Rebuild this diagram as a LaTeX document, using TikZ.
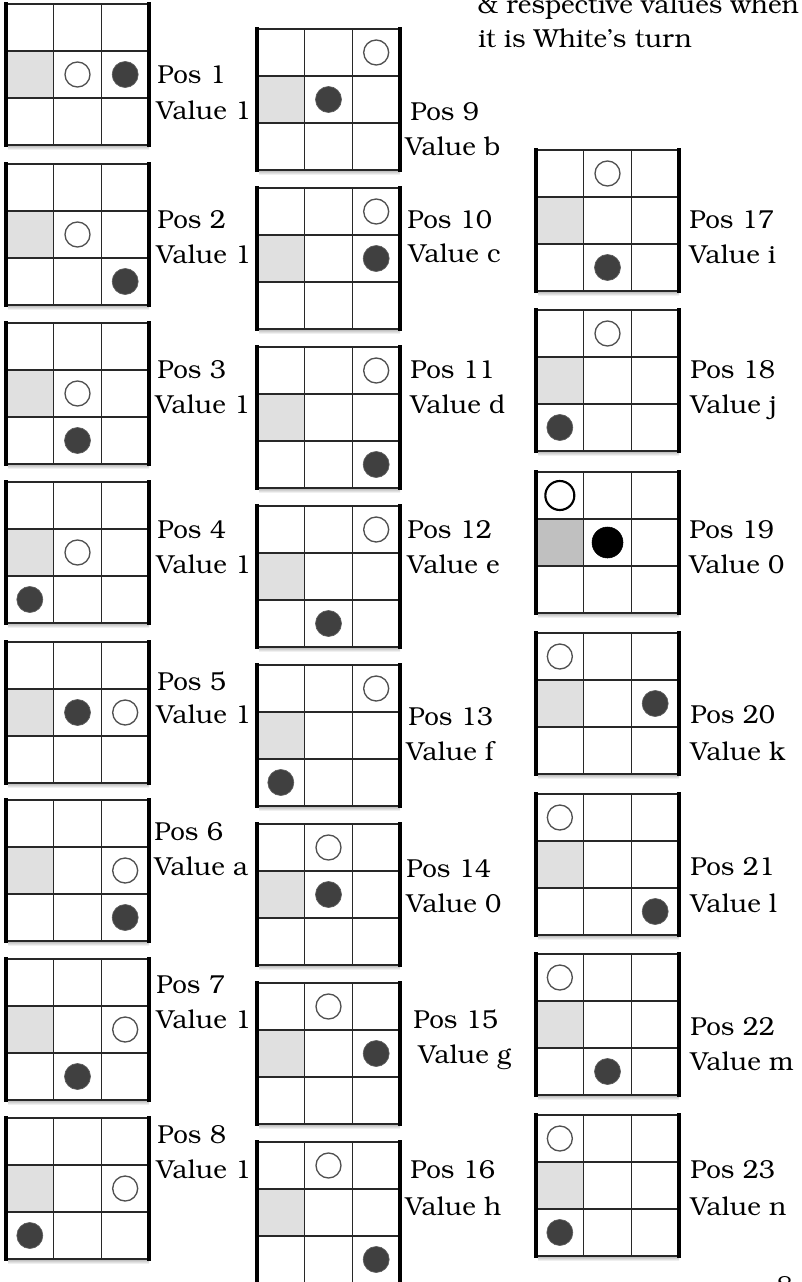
\documentclass[tikz,border=0pt]{standalone}
\usepackage[T1]{fontenc}
\usepackage{bookman}
\usetikzlibrary{calc,positioning}
\definecolor{cShade}{RGB}{224,224,224}
\definecolor{cShadeDk}{RGB}{192,192,192}
\definecolor{cStone}{RGB}{64,64,64}
\definecolor{cRim}{RGB}{80,80,80}
\definecolor{cGrid}{RGB}{40,40,40}

% one 3x3 board: [style] {x left}{y top}{white row}{white col}{black row}{black col}
\newcommand{\drawboard}[7][]{%
  \begin{scope}[#1]
    \shade[top color=black!30, bottom color=white] ({#2+2},{#3+141}) rectangle ({#2+143},{#3+146});
    \fill[white] (#2,#3) rectangle ++(143,141);
    \fill[cellshade] (#2,{#3+47}) rectangle ++(47.7,47);
    \draw[gridline] ({#2+47.7},#3) -- ++(0,141) ({#2+95.3},#3) -- ++(0,141)
      (#2,{#3+47}) -- ++(143,0) (#2,{#3+94}) -- ++(143,0);
    \draw[rimline] (#2,#3) -- ++(143,0) (#2,{#3+141}) -- ++(143,0);
    \draw[sideline] (#2,{#3-2}) -- ++(0,145) ({#2+143},{#3-2}) -- ++(0,145);
    \draw[wstone] ({#2+(#5-0.5)*47.67},{#3+(#4-0.5)*47}) circle;
    \draw[bstone] ({#2+(#7-0.5)*47.67},{#3+(#6-0.5)*47}) circle;
  \end{scope}}

\begin{document}
\begin{tikzpicture}[
    x=0.75pt, y=-0.75pt,
    font=\fontsize{19.5}{26}\selectfont,
    lbl/.style={anchor=base west, inner sep=0pt},
    gridline/.style={draw=cGrid, line width=0.9pt},
    rimline/.style={draw=cGrid, line width=1.2pt},
    sideline/.style={draw=black, line width=3pt},
    cellshade/.style={fill=cShade},
    wstone/.style={draw=cRim, line width=1pt, fill=white, radius=12.5},
    bstone/.style={fill=cStone, draw=cStone!85!white, line width=0.5pt, radius=13},
    bigstones/.style={
        cellshade/.style={fill=cShadeDk},
        wstone/.style={draw=black, line width=1.6pt, fill=white, radius=14.5},
        bstone/.style={fill=black, radius=15.5}
    }
]
\useasboundingbox (0,0) rectangle (801,1282);

% caption (top cut off)
\node[lbl] (cap1) at (477,13) {\& respective values when};
\node[lbl] (cap2) at (478,47) {it is White's turn};

% first column
\drawboard{6}{4}{2}{2}{2}{3}
\drawboard{6}{164}{2}{2}{3}{3}
\drawboard{6}{323}{2}{2}{3}{2}
\drawboard{6}{482}{2}{2}{3}{1}
\drawboard{6}{642}{2}{3}{2}{2}
\drawboard{6}{800}{2}{3}{3}{3}
\drawboard{6}{959}{2}{3}{3}{2}
\drawboard{6}{1118}{2}{3}{3}{1}

\node[lbl] (p1) at (157,83) {Pos 1};
\node[lbl] (v1) at (156,119) {Value 1};
\node[lbl] (p2) at (157,228) {Pos 2};
\node[lbl] (v2) at (156,263) {Value 1};
\node[lbl] (p3) at (157,378) {Pos 3};
\node[lbl] (v3) at (155,413) {Value 1};
\node[lbl] (p4) at (157,538) {Pos 4};
\node[lbl] (v4) at (156,573) {Value 1};
\node[lbl] (p5) at (157,690) {Pos 5};
\node[lbl] (v5) at (156,723) {Value 1};
\node[lbl] (p6) at (154,840) {Pos 6};
\node[lbl] (v6) at (154,875) {Value a};
\node[lbl] (p7) at (156,993) {Pos 7};
\node[lbl] (v7) at (156,1028) {Value 1};
\node[lbl] (p8) at (157,1143) {Pos 8};
\node[lbl] (v8) at (156,1178) {Value 1};

% second column
\drawboard{257}{29}{1}{3}{2}{2}
\drawboard{257}{188}{1}{3}{2}{3}
\drawboard{257}{347}{1}{3}{3}{3}
\drawboard{257}{506}{1}{3}{3}{2}
\drawboard{257}{665}{1}{3}{3}{1}
\drawboard{257}{824}{1}{2}{2}{2}
\drawboard{257}{983}{1}{2}{2}{3}
\drawboard{257}{1142}{1}{2}{3}{3}

\node[lbl] (p9) at (410,120) {Pos 9};
\node[lbl] (v9) at (405,155) {Value b};
\node[lbl] (p10) at (407,228) {Pos 10};
\node[lbl] (v10) at (408,262) {Value c};
\node[lbl] (p11) at (410,378) {Pos 11};
\node[lbl] (v11) at (410,413) {Value d};
\node[lbl] (p12) at (407,538) {Pos 12};
\node[lbl] (v12) at (407,573) {Value e};
\node[lbl] (p13) at (408,725) {Pos 13};
\node[lbl] (v13) at (406,760) {Value f};
\node[lbl] (p14) at (406,877) {Pos 14};
\node[lbl] (v14) at (406,912) {Value 0};
\node[lbl] (p15) at (413,1028) {Pos 15};
\node[lbl] (v15) at (418,1063) {Value g};
\node[lbl] (p16) at (410,1178) {Pos 16};
\node[lbl] (v16) at (405,1215) {Value h};

% third column
\drawboard{536}{150}{1}{2}{3}{2}
\drawboard{536}{310}{1}{2}{3}{1}
\drawboard[bigstones]{536}{472}{1}{1}{2}{2}
\drawboard{536}{633}{1}{1}{2}{3}
\drawboard{536}{794}{1}{1}{3}{3}
\drawboard{536}{954}{1}{1}{3}{2}
\drawboard{536}{1115}{1}{1}{3}{1}

\node[lbl] (p17) at (689,228) {Pos 17};
\node[lbl] (v17) at (689,263) {Value i};
\node[lbl] (p18) at (690,378) {Pos 18};
\node[lbl] (v18) at (690,413) {Value j};
\node[lbl] (p19) at (689,538) {Pos 19};
\node[lbl] (v19) at (689,573) {Value 0};
\node[lbl] (p20) at (690,723) {Pos 20};
\node[lbl] (v20) at (690,760) {Value k};
\node[lbl] (p21) at (690,875) {Pos 21};
\node[lbl] (v21) at (690,912) {Value l};
\node[lbl] (p22) at (690,1035) {Pos 22};
\node[lbl] (v22) at (690,1070) {Value m};
\node[lbl] (p23) at (690,1178) {Pos 23};
\node[lbl] (v23) at (690,1215) {Value n};

% page number, cut off at the bottom
\node[lbl] (pg) at (776,1294) {8};

\end{tikzpicture}
\end{document}
